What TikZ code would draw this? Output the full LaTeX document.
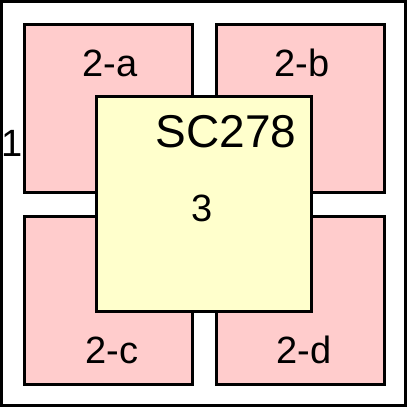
\documentclass[tikz,border=0pt]{standalone}
\usepackage{fontspec}
\setmainfont{Liberation Sans}
\usetikzlibrary{positioning}
\definecolor{partpink}{RGB}{255,204,204}
\definecolor{chipyellow}{RGB}{255,255,204}

\begin{document}
\begin{tikzpicture}[
    x=1pt, y=-1pt,
    frame/.style={rectangle, draw=black, line width=3pt, inner sep=0pt, minimum size=404pt},
    part/.style={rectangle, draw=black, line width=3pt, fill=partpink, inner sep=0pt, minimum size=168pt},
    chip/.style={rectangle, draw=black, line width=3pt, fill=chipyellow, inner sep=0pt, minimum size=215pt},
    lbl/.style={inner sep=0pt, font=\fontsize{38}{40}\selectfont},
    biglbl/.style={inner sep=0pt, font=\fontsize{46}{48}\selectfont}
  ]
    \useasboundingbox (0,0) rectangle (408,408);
    \node[frame] (outer) at (203.5,203.5) {};
    \node[part] (pa) at (108.5,108.5) {};
    \node[part] (pb) at (300.5,108.5) {};
    \node[part] (pc) at (108.5,300.5) {};
    \node[part] (pd) at (300.5,300.5) {};
    \node[chip] (sc) at (203.5,203.5) {};

    \node[lbl] (one) at (12,143) {1};
    \node[lbl] (la) at (110,63) {2-a};
    \node[lbl] (lb) at (302,63) {2-b};
    \node[lbl] (lc) at (112,350) {2-c};
    \node[lbl] (ld) at (304,350) {2-d};
    \node[biglbl] (name) at (226,132) {SC278};
    \node[lbl] (three) at (202,208) {3};
  \end{tikzpicture}
\end{document}
